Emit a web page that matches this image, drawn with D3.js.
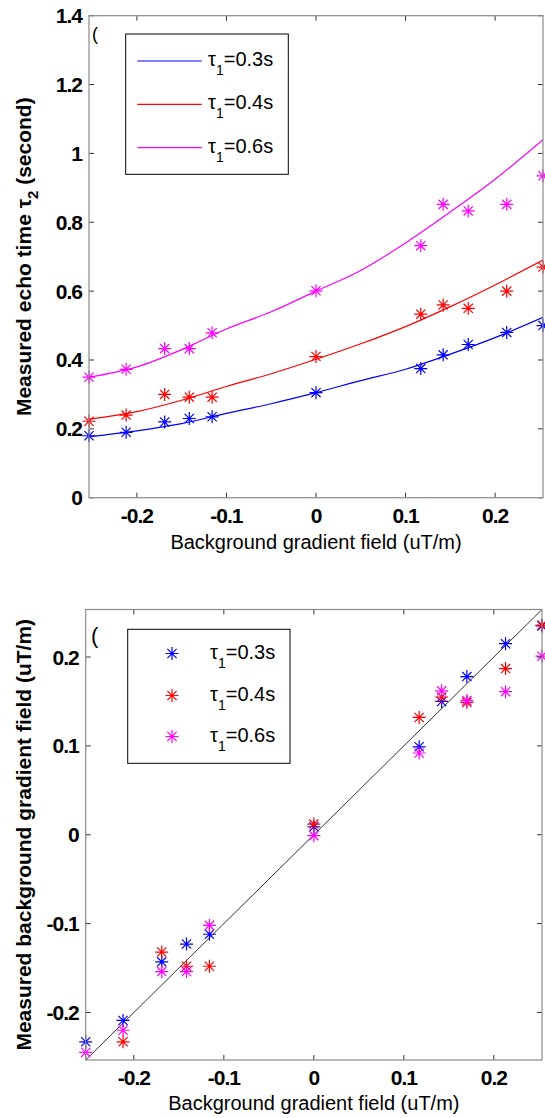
<!DOCTYPE html>
<html>
<head>
<meta charset="utf-8">
<script src="https://cdn.jsdelivr.net/npm/d3@7"></script>
<style>
  body { margin: 0; background: #fff; }
  svg { display: block; font-family: "Liberation Sans", Arial, sans-serif; }
</style>
</head>
<body>
<div id="chart"></div>
<script>
// background gradient field applied (uT/m), same for every run
const fieldX = [-0.2535, -0.212, -0.169, -0.1415, -0.116, 0, 0.117, 0.142, 0.170, 0.213, 0.2535];

// legend names
const tauNames = ["0.3s", "0.4s", "0.6s"];
const seriesColors = ["#0000ff", "#ff0000", "#ff00ff"];

// top panel: measured echo time tau2 (s)
const echo03 = [0.18, 0.19, 0.22, 0.23, 0.235, 0.305, 0.375, 0.415, 0.445, 0.48, 0.50];
const echo04 = [0.222, 0.24, 0.30, 0.292, 0.292, 0.41, 0.533, 0.56, 0.55, 0.60, 0.67];
const echo06 = [0.35, 0.373, 0.433, 0.433, 0.479, 0.601, 0.732, 0.852, 0.833, 0.852, 0.935];

// top panel: fitted curves
const fitX = [-0.2535, -0.2, -0.15, -0.1, -0.05, 0, 0.05, 0.1, 0.15, 0.2, 0.2535];
const fit03 = [0.177, 0.194, 0.215, 0.245, 0.273, 0.305, 0.34, 0.373, 0.417, 0.465, 0.524];
const fit04 = [0.228, 0.25, 0.283, 0.323, 0.36, 0.402, 0.447, 0.497, 0.555, 0.618, 0.69];
const fit06 = [0.35, 0.38, 0.43, 0.49, 0.54, 0.60, 0.66, 0.74, 0.83, 0.925, 1.04];

// bottom panel: measured background gradient field (uT/m)
const meas03 = [-0.233, -0.209, -0.143, -0.123, -0.112, 0.009, 0.099, 0.150, 0.178, 0.215, 0.235];
const meas04 = [null, -0.233, -0.132, -0.148, -0.148, 0.012, 0.132, 0.155, 0.149, 0.187, 0.236];
const meas06 = [-0.245, -0.220, -0.154, -0.154, -0.102, -0.001, 0.092, 0.162, 0.151, 0.161, 0.201];

const xTicks = [-0.2, -0.1, 0, 0.1, 0.2];
const echoTicks = [0, 0.2, 0.4, 0.6, 0.8, 1, 1.2, 1.4];
const gradTicks = [-0.2, -0.1, 0, 0.1, 0.2];
const xDomain = [-0.2535, 0.2535];

const svg = d3.select("#chart").append("svg")
    .attr("width", 545)
    .attr("height", 1118);

const star = "M-6.5,0H6.5M0,-6.5V6.5M-4.6,-4.6L4.6,4.6M-4.6,4.6L4.6,-4.6";
// matlab style: plain hyphen for negatives
const fmt = d => d3.format("")(d).replace("\u2212", "-");

function drawFrame(g, x, y, yTicks, yLabel, xLabelY) {
    const [x0, x1] = x.range();
    const [y0, y1] = y.range();
    const tickLen = 5;

    // ticks on all four sides, pointing inward
    xTicks.forEach(t => {
        g.append("line").attr("x1", x(t)).attr("x2", x(t)).attr("y1", y0).attr("y2", y0 - tickLen)
            .attr("stroke", "#333");
        g.append("line").attr("x1", x(t)).attr("x2", x(t)).attr("y1", y1).attr("y2", y1 + tickLen)
            .attr("stroke", "#333");
        g.append("text").attr("x", x(t)).attr("y", y0 + 25)
            .attr("text-anchor", "middle")
            .attr("font-size", 21).attr("font-weight", "bold").attr("letter-spacing", -1)
            .text(fmt(t));
    });
    yTicks.forEach(t => {
        g.append("line").attr("x1", x0).attr("x2", x0 + tickLen).attr("y1", y(t)).attr("y2", y(t))
            .attr("stroke", "#333");
        g.append("line").attr("x1", x1).attr("x2", x1 - tickLen).attr("y1", y(t)).attr("y2", y(t))
            .attr("stroke", "#333");
        g.append("text").attr("x", x0 - 7).attr("y", y(t) + 7.5)
            .attr("text-anchor", "end")
            .attr("font-size", 21).attr("font-weight", "bold").attr("letter-spacing", -1)
            .text(fmt(t));
    });

    g.append("rect")
        .attr("x", x0).attr("y", y1)
        .attr("width", x1 - x0).attr("height", y0 - y1)
        .attr("fill", "none").attr("stroke", "#8a8a8a").attr("stroke-width", 1.2);

    g.append("text")
        .attr("x", (x0 + x1) / 2).attr("y", xLabelY)
        .attr("text-anchor", "middle").attr("font-size", 20)
        .text("Background gradient field (uT/m)");

    const yl = g.append("text")
        .attr("transform", `translate(31,${(y0 + y1) / 2}) rotate(-90)`)
        .attr("text-anchor", "middle")
        .attr("font-size", 21).attr("font-weight", "bold");
    yLabel(yl);
}

function legendEntry(g, xText, yBase, name) {
    const t = g.append("text").attr("x", xText).attr("y", yBase).attr("font-size", 20);
    t.append("tspan").text("τ");
    t.append("tspan").attr("font-size", 14).attr("dy", 9).text("1");
    t.append("tspan").attr("dy", -9).text("=" + name);
}

// ---------- top panel ----------
const topPanel = svg.append("g");
const xTop = d3.scaleLinear().domain(xDomain).range([89, 543]);
const yTop = d3.scaleLinear().domain([0, 1.4]).range([497.7, 15.7]);

topPanel.append("clipPath").attr("id", "clipTop").append("rect")
    .attr("x", 89).attr("y", 15.7).attr("width", 454).attr("height", 482);

const fits = [fit03, fit04, fit06];
const echoes = [echo03, echo04, echo06];
const line = d3.line().curve(d3.curveMonotoneX).x(d => xTop(d[0])).y(d => yTop(d[1]));

fits.forEach((f, i) => {
    topPanel.append("path")
        .datum(fitX.map((v, j) => [v, f[j]]))
        .attr("d", line)
        .attr("clip-path", "url(#clipTop)")
        .attr("fill", "none").attr("stroke", seriesColors[i]).attr("stroke-width", 1.2);
});
echoes.forEach((s, i) => {
    topPanel.selectAll(null).data(fieldX.map((v, j) => [v, s[j]]).filter(d => d[1] != null))
        .enter().append("path")
        .attr("transform", d => `translate(${xTop(d[0])},${yTop(d[1])})`)
        .attr("d", star)
        .attr("fill", "none").attr("stroke", seriesColors[i]).attr("stroke-width", 1.2);
});

drawFrame(topPanel, xTop, yTop, echoTicks, t => {
    t.append("tspan").text("Measured echo time τ");
    t.append("tspan").attr("font-size", 15).attr("dy", 7).text("2");
    t.append("tspan").attr("dy", -7).text(" (second)");
}, 549);

topPanel.append("text").attr("x", 92).attr("y", 40).attr("font-size", 18).text("(");

// top legend
const legTop = topPanel.append("g");
legTop.append("rect").attr("x", 125.7).attr("y", 34).attr("width", 162.6).attr("height", 140.3)
    .attr("fill", "#fff").attr("stroke", "#000").attr("stroke-width", 1);
[61, 104.3, 147.7].forEach((yy, i) => {
    legTop.append("line").attr("x1", 137.3).attr("x2", 201.7).attr("y1", yy).attr("y2", yy)
        .attr("stroke", seriesColors[i]).attr("stroke-width", 1.2);
    legendEntry(legTop, 208, yy + 5, tauNames[i]);
});

// ---------- bottom panel ----------
const botPanel = svg.append("g");
const xBot = d3.scaleLinear().domain(xDomain).range([85.7, 542]);
const yBot = d3.scaleLinear().domain([-0.2535, 0.2535]).range([1060, 609.5]);

botPanel.append("line")
    .attr("x1", xBot(xDomain[0])).attr("y1", yBot(xDomain[0]))
    .attr("x2", xBot(xDomain[1])).attr("y2", yBot(xDomain[1]))
    .attr("stroke", "#333").attr("stroke-width", 1);

const meas = [meas03, meas04, meas06];
meas.forEach((s, i) => {
    botPanel.selectAll(null).data(fieldX.map((v, j) => [v, s[j]]).filter(d => d[1] != null))
        .enter().append("path")
        .attr("transform", d => `translate(${xBot(d[0])},${yBot(d[1])})`)
        .attr("d", star)
        .attr("fill", "none").attr("stroke", seriesColors[i]).attr("stroke-width", 1.2);
});

drawFrame(botPanel, xBot, yBot, gradTicks, t => {
    t.text("Measured background gradient field (uT/m)");
}, 1110);

botPanel.append("text").attr("x", 91).attr("y", 643).attr("font-size", 22).text("(");

// bottom legend
const legBot = botPanel.append("g");
legBot.append("rect").attr("x", 127.7).attr("y", 629.3).attr("width", 162.3).attr("height", 134)
    .attr("fill", "#fff").attr("stroke", "#000").attr("stroke-width", 1);
[653.5, 695.5, 736.5].forEach((yy, i) => {
    legBot.append("path").attr("transform", `translate(172,${yy})`).attr("d", star)
        .attr("fill", "none").attr("stroke", seriesColors[i]).attr("stroke-width", 1.2);
    legendEntry(legBot, 210, yy + 5, tauNames[i]);
});
</script>
</body>
</html>
